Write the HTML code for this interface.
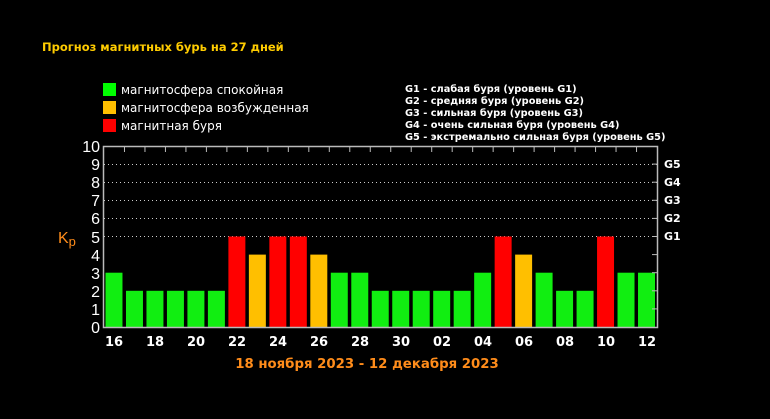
<!DOCTYPE html>
<html><head><meta charset="utf-8"><style>
html,body{margin:0;padding:0;background:#000;}
svg{display:block;}
</style></head><body>
<svg width="770" height="419" viewBox="0 0 770 419" xmlns="http://www.w3.org/2000/svg" font-family="'DejaVu Sans','Liberation Sans',sans-serif">
<rect width="770" height="419" fill="#000"/>
<text x="42" y="51" fill="#ffcc00" font-size="11.5" font-weight="bold">Прогноз магнитных бурь на 27 дней</text>
<rect x="103" y="83" width="13" height="13" fill="#00ff00"/>
<rect x="103" y="101" width="13" height="13" fill="#ffbf00"/>
<rect x="103" y="119" width="13" height="13" fill="#ff0000"/>
<g fill="#fff" font-size="12">
<text x="121" y="94">магнитосфера спокойная</text>
<text x="121" y="112">магнитосфера возбужденная</text>
<text x="121" y="130">магнитная буря</text>
</g>
<g fill="#fff" font-size="9.8" font-weight="bold">
<text x="405" y="92">G1 - слабая буря (уровень G1)</text>
<text x="405" y="104">G2 - средняя буря (уровень G2)</text>
<text x="405" y="116">G3 - сильная буря (уровень G3)</text>
<text x="405" y="128">G4 - очень сильная буря (уровень G4)</text>
<text x="405" y="140">G5 - экстремально сильная буря (уровень G5)</text>
</g>
<g stroke="#ccc" stroke-width="1" stroke-dasharray="1,3">
<line x1="104" x2="657" y1="164.5" y2="164.5"/>
<line x1="104" x2="657" y1="182.5" y2="182.5"/>
<line x1="104" x2="657" y1="200.5" y2="200.5"/>
<line x1="104" x2="657" y1="218.5" y2="218.5"/>
<line x1="104" x2="657" y1="236.5" y2="236.5"/>
</g>
<g id="bars"></g>
<rect x="103.5" y="146.5" width="554" height="181" fill="none" stroke="#bbb" stroke-width="1.5"/>
<g fill="#fff" font-size="16" text-anchor="end" font-family="'Liberation Sans',sans-serif">
<text x="100" y="152">10</text><text x="100" y="170">9</text><text x="100" y="188">8</text><text x="100" y="206">7</text><text x="100" y="224">6</text><text x="100" y="243">5</text><text x="100" y="261">4</text><text x="100" y="279">3</text><text x="100" y="297">2</text><text x="100" y="315">1</text><text x="100" y="333">0</text>
</g>
<text x="58" y="243" fill="#ff8c1a" font-size="16" font-family="'Liberation Sans',sans-serif">K<tspan font-size="13" dy="3">p</tspan></text>
<g fill="#fff" font-size="11" font-weight="bold">
<text x="664" y="168">G5</text><text x="664" y="186">G4</text><text x="664" y="204">G3</text><text x="664" y="222">G2</text><text x="664" y="240">G1</text>
</g>
<g fill="#fff" font-size="13" font-weight="bold" text-anchor="middle">
<text x="114" y="346">16</text><text x="155" y="346">18</text><text x="196" y="346">20</text><text x="237" y="346">22</text><text x="278" y="346">24</text><text x="319" y="346">26</text><text x="360" y="346">28</text><text x="401" y="346">30</text><text x="442" y="346">02</text><text x="483" y="346">04</text><text x="524" y="346">06</text><text x="565" y="346">08</text><text x="606" y="346">10</text><text x="647" y="346">12</text>
</g>
<text x="367" y="368" fill="#ff8c1a" font-size="13.3" font-weight="bold" text-anchor="middle">18 ноября 2023 - 12 декабря 2023</text>
<g id="ticks" stroke="#bbb" stroke-width="1"></g>
<script>
var v=[3,2,2,2,2,2,5,4,5,5,4,3,3,2,2,2,2,2,3,5,4,3,2,2,5,3,3];
var g=document.getElementById('bars'),t=document.getElementById('ticks'),ns='http://www.w3.org/2000/svg';
var w=(657-104)/27,u=18.1,b=327;
for(var i=0;i<27;i++){var r=document.createElementNS(ns,'rect');var x=104+i*w+1.5;
r.setAttribute('x',x);r.setAttribute('width',w-3.5);r.setAttribute('y',b-v[i]*u);r.setAttribute('height',v[i]*u);
r.setAttribute('fill',v[i]>=5?'#ff0000':v[i]==4?'#ffbf00':'#11ee11');g.appendChild(r);
if(i>0){var l=document.createElementNS(ns,'line');var lx=104+i*w;l.setAttribute('x1',lx);l.setAttribute('x2',lx);l.setAttribute('y1',147);l.setAttribute('y2',152);t.appendChild(l);}}
for(var k=1;k<10;k++){var l=document.createElementNS(ns,'line');var y=b-k*u;l.setAttribute('x1',652);l.setAttribute('x2',657);l.setAttribute('y1',y);l.setAttribute('y2',y);t.appendChild(l);}
</script>
</svg>
</body></html>
